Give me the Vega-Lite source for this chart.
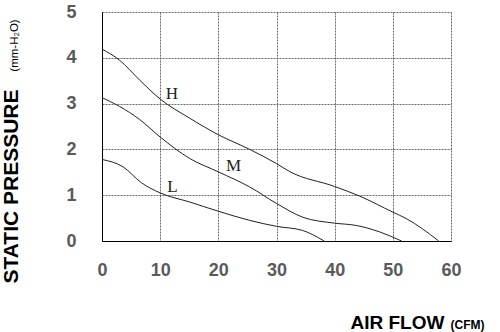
{
  "$schema": "https://vega.github.io/schema/vega-lite/v6.json",
  "autosize": {"type": "none"},
  "width": 349,
  "height": 229,
  "padding": {"left": 102, "top": 12, "right": 49, "bottom": 91},
  "background": "white",
  "config": {
    "view": {"stroke": null},
    "axis": {
      "labelFont": "Liberation Sans",
      "labelFontWeight": "bold",
      "labelFontSize": 18,
      "labelColor": "#5a5a5a",
      "titleFont": "Liberation Sans",
      "titleFontWeight": "bold",
      "titleColor": "#000000",
      "grid": true,
      "gridColor": "#444444",
      "gridDash": [2, 1],
      "gridWidth": 0.8,
      "ticks": false,
      "domainColor": "#000000",
      "domainWidth": 1
    }
  },
  "datasets": {
    "curves": [
      {"fan": "H", "cfm": 0, "mmh2o": 4.19},
      {"fan": "H", "cfm": 3.0, "mmh2o": 3.95},
      {"fan": "H", "cfm": 6.5, "mmh2o": 3.51},
      {"fan": "H", "cfm": 10, "mmh2o": 3.1},
      {"fan": "H", "cfm": 15.1, "mmh2o": 2.68},
      {"fan": "H", "cfm": 20, "mmh2o": 2.32},
      {"fan": "H", "cfm": 25.4, "mmh2o": 2.0},
      {"fan": "H", "cfm": 30, "mmh2o": 1.69},
      {"fan": "H", "cfm": 32.2, "mmh2o": 1.52},
      {"fan": "H", "cfm": 40, "mmh2o": 1.19},
      {"fan": "H", "cfm": 44.3, "mmh2o": 0.98},
      {"fan": "H", "cfm": 50, "mmh2o": 0.63},
      {"fan": "H", "cfm": 52.3, "mmh2o": 0.49},
      {"fan": "H", "cfm": 57.9, "mmh2o": 0},
      {"fan": "M", "cfm": 0, "mmh2o": 3.13},
      {"fan": "M", "cfm": 3.0, "mmh2o": 2.94},
      {"fan": "M", "cfm": 6.5, "mmh2o": 2.65},
      {"fan": "M", "cfm": 10, "mmh2o": 2.27},
      {"fan": "M", "cfm": 15.1, "mmh2o": 1.8},
      {"fan": "M", "cfm": 20, "mmh2o": 1.51},
      {"fan": "M", "cfm": 25.4, "mmh2o": 1.18},
      {"fan": "M", "cfm": 30, "mmh2o": 0.82},
      {"fan": "M", "cfm": 34.5, "mmh2o": 0.52},
      {"fan": "M", "cfm": 40, "mmh2o": 0.39},
      {"fan": "M", "cfm": 43.7, "mmh2o": 0.34},
      {"fan": "M", "cfm": 47.7, "mmh2o": 0.2},
      {"fan": "M", "cfm": 51.5, "mmh2o": 0},
      {"fan": "L", "cfm": 0, "mmh2o": 1.78},
      {"fan": "L", "cfm": 3.6, "mmh2o": 1.62},
      {"fan": "L", "cfm": 6.8, "mmh2o": 1.27},
      {"fan": "L", "cfm": 10, "mmh2o": 1.05},
      {"fan": "L", "cfm": 15.1, "mmh2o": 0.85},
      {"fan": "L", "cfm": 20, "mmh2o": 0.65},
      {"fan": "L", "cfm": 25.4, "mmh2o": 0.45},
      {"fan": "L", "cfm": 30, "mmh2o": 0.32},
      {"fan": "L", "cfm": 34.5, "mmh2o": 0.23},
      {"fan": "L", "cfm": 38.2, "mmh2o": 0}
    ],
    "curveLabels": [
      {"fan": "H", "cfm": 12.0, "mmh2o": 3.2},
      {"fan": "M", "cfm": 22.6, "mmh2o": 1.63},
      {"fan": "L", "cfm": 12.1, "mmh2o": 1.17}
    ]
  },
  "layer": [
    {
      "data": {"name": "curves"},
      "mark": {"type": "line", "interpolate": "monotone", "color": "#222222", "strokeWidth": 1},
      "encoding": {
        "x": {
          "field": "cfm", "type": "quantitative",
          "scale": {"domain": [0, 60], "nice": false},
          "axis": {
            "values": [0, 10, 20, 30, 40, 50, 60],
            "labelPadding": 20,
            "labelFlush": false,
            "title": "AIR FLOW",
            "titleFontSize": 19,
            "titleAnchor": "start",
            "titleAlign": "left",
            "titleBaseline": "alphabetic",
            "titleX": 248,
            "titleY": 87
          }
        },
        "y": {
          "field": "mmh2o", "type": "quantitative",
          "scale": {"domain": [0, 5], "nice": false},
          "axis": {
            "values": [0, 1, 2, 3, 4, 5],
            "labelPadding": 26,
            "title": "STATIC PRESSURE",
            "titleFontSize": 21,
            "titleAngle": 270,
            "titleAlign": "center",
            "titleBaseline": "middle",
            "titleX": -91,
            "titleY": 174
          }
        },
        "detail": {"field": "fan", "type": "nominal"}
      }
    },
    {
      "data": {"name": "curveLabels"},
      "mark": {"type": "text", "font": "Liberation Serif", "fontSize": 17, "color": "#222222", "align": "center", "baseline": "middle"},
      "encoding": {
        "x": {
          "field": "cfm", "type": "quantitative",
          "scale": {"domain": [0, 60], "nice": false},
          "axis": {
            "orient": "top",
            "grid": false,
            "labels": false,
            "domain": false,
            "title": "(CFM)",
            "titleFontSize": 12,
            "titleAnchor": "start",
            "titleAlign": "left",
            "titleBaseline": "alphabetic",
            "titleX": 348,
            "titleY": 316
          }
        },
        "y": {
          "field": "mmh2o", "type": "quantitative",
          "scale": {"domain": [0, 5], "nice": false},
          "axis": {
            "orient": "right",
            "grid": false,
            "labels": false,
            "domain": false,
            "title": "(mm-H₂O)",
            "titleFontSize": 11.5,
            "titleFontWeight": "normal",
            "titleAngle": 270,
            "titleAlign": "center",
            "titleBaseline": "middle",
            "titleX": -437,
            "titleY": 33
          }
        },
        "text": {"field": "fan", "type": "nominal"}
      }
    }
  ],
  "resolve": {"axis": {"x": "independent", "y": "independent"}}
}
